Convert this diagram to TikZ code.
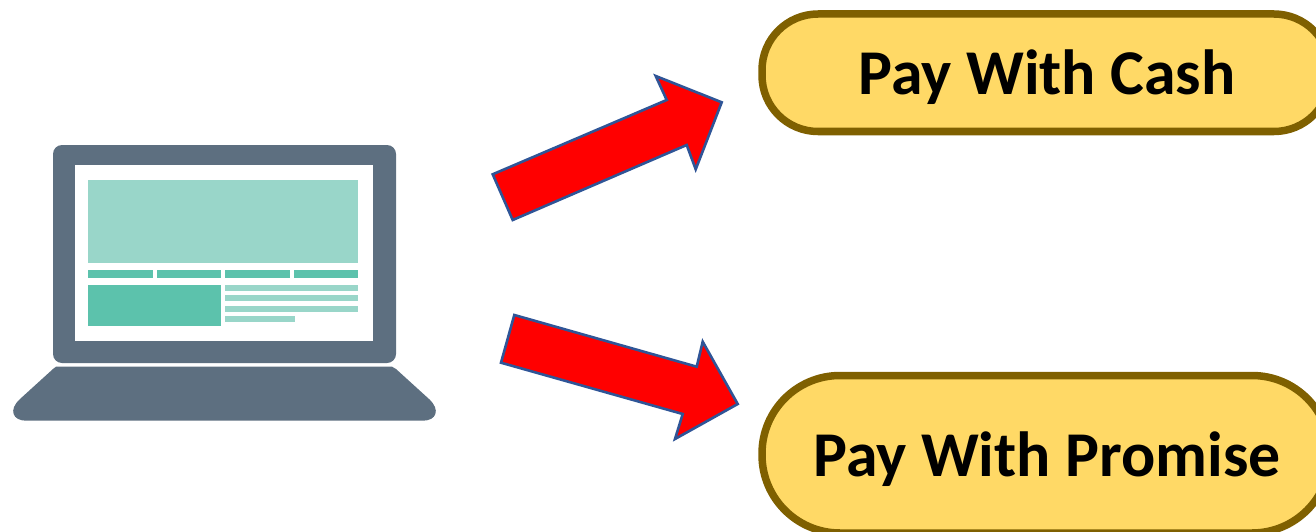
\documentclass[tikz,border=0pt]{standalone}
\usepackage{fontspec}
\setmainfont{Carlito}
\definecolor{slate}{HTML}{5D6F80}
\definecolor{tealL}{HTML}{99D6C9}
\definecolor{tealD}{HTML}{5CC2AC}
\definecolor{pillF}{HTML}{FFD966}
\definecolor{pillB}{HTML}{7F6000}
\definecolor{arrowB}{HTML}{2F5597}
\tikzset{
  pillbox/.style={draw=pillB,fill=pillF,line width=7.5pt,rounded corners=#1},
  pilltext/.style={font=\fontsize{63.8}{70}\selectfont\bfseries,text=black,inner sep=0pt,anchor=base},
  blockarrow/.style={draw=arrowB,fill=red,line width=2.6pt,line join=miter},
  lightbar/.style={fill=tealL},
  darkbar/.style={fill=tealD}
}
\begin{document}
\begin{tikzpicture}[x=1pt,y=-1pt]
\useasboundingbox (0,0) rectangle (1316,532);
\clip (0,0) rectangle (1316,532);
% laptop
\fill[slate,rounded corners=9pt] (53,145) rectangle (396,363);
\fill[white] (75.3,165.3) rectangle (373,341.3);
\fill[lightbar] (88.3,180.3) rectangle (358.3,263);
\fill[darkbar] (88.3,270) rectangle (153,278.3);
\fill[darkbar] (157,270) rectangle (221.3,278.3);
\fill[darkbar] (225.3,270) rectangle (290,278.3);
\fill[darkbar] (293.7,270) rectangle (358.3,278.3);
\fill[darkbar] (88.3,285.3) rectangle (221.3,325.7);
\fill[lightbar] (225.3,285.3) rectangle (358.3,291);
\fill[lightbar] (225.3,295.3) rectangle (358.3,301.3);
\fill[lightbar] (225.3,306) rectangle (358.3,312);
\fill[lightbar] (225.3,316) rectangle (294.7,322.3);
\fill[slate] (56,366.7) -- (392,366.7) -- (396,369) -- (429,399)
  .. controls (441,410) and (436,420.7) .. (423,420.7) -- (26,420.7)
  .. controls (13,420.7) and (8,410) .. (20,399) -- (53,369) -- cycle;
% arrows
\draw[blockarrow] (492.7,174.3) -- (666.7,100) -- (655.7,76) -- (721.7,102.3)
  -- (695.7,169.3) -- (686.7,145) -- (512.7,220) -- cycle;
\draw[blockarrow] (514.3,315) -- (696.7,366.7) -- (702.7,341.7) -- (737.7,404)
  -- (675,439) -- (682.7,414) -- (501,362.7) -- cycle;
% pills
\draw[pillbox=56pt] (762,14) rectangle (1330,131.5);
\draw[pillbox=78pt] (762,375.5) rectangle (1330,533);
\node[pilltext] (cash) at (1047,95) {Pay With Cash};
\node[pilltext] (promise) at (1047,476) {Pay With Promise};
\end{tikzpicture}
\end{document}
